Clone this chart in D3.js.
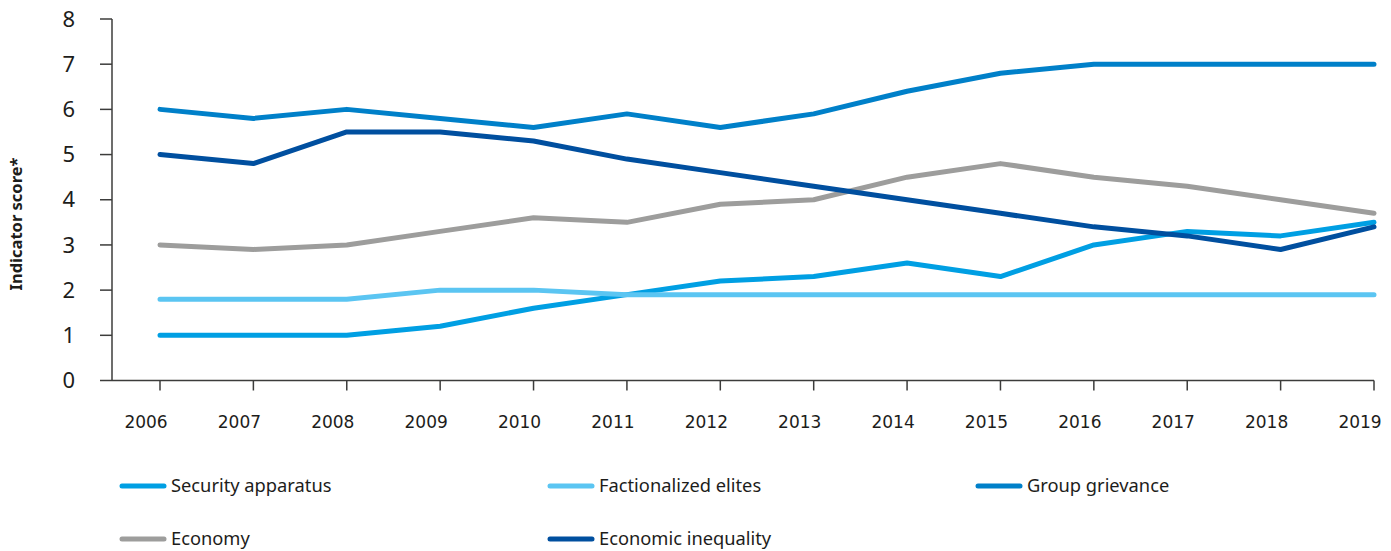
<!DOCTYPE html>
<html>
<head>
<meta charset="utf-8">
<script src="https://cdn.jsdelivr.net/npm/d3@7"></script>
<style>
  body { margin: 0; background: #fff; }
  svg { display: block; font-family: 'Noto Sans', sans-serif; }
</style>
</head>
<body>
<div class="chart"></div>
<script>
const years = [2006, 2007, 2008, 2009, 2010, 2011, 2012, 2013, 2014, 2015, 2016, 2017, 2018, 2019];
const yTicks = [0, 1, 2, 3, 4, 5, 6, 7, 8];

const securityApparatus = [1.0, 1.0, 1.0, 1.2, 1.6, 1.9, 2.2, 2.3, 2.6, 2.3, 3.0, 3.3, 3.2, 3.5];
const factionalizedElites = [1.8, 1.8, 1.8, 2.0, 2.0, 1.9, 1.9, 1.9, 1.9, 1.9, 1.9, 1.9, 1.9, 1.9];
const groupGrievance = [6.0, 5.8, 6.0, 5.8, 5.6, 5.9, 5.6, 5.9, 6.4, 6.8, 7.0, 7.0, 7.0, 7.0];
const economy = [3.0, 2.9, 3.0, 3.3, 3.6, 3.5, 3.9, 4.0, 4.5, 4.8, 4.5, 4.3, 4.0, 3.7];
const economicInequality = [5.0, 4.8, 5.5, 5.5, 5.3, 4.9, 4.6, 4.3, 4.0, 3.7, 3.4, 3.2, 2.9, 3.4];

const series = [
  { name: 'Security apparatus', values: securityApparatus, color: '#009fe3' },
  { name: 'Factionalized elites', values: factionalizedElites, color: '#5bc5f2' },
  { name: 'Group grievance', values: groupGrievance, color: '#0080c9' },
  { name: 'Economy', values: economy, color: '#9d9d9c' },
  { name: 'Economic inequality', values: economicInequality, color: '#004f9f' }
];

const width = 1391, height = 551;
const axisColor = '#3c3c3b';

const svg = d3.select('.chart')
  .append('svg')
  .attr('width', width)
  .attr('height', height);

const x = d3.scaleLinear().domain([2006, 2019]).range([160, 1374]);
const y = d3.scaleLinear().domain([0, 8]).range([380.5, 19]);

// y axis
const yAxis = svg.append('g').attr('transform', 'translate(112,0)');
yAxis.append('line')
  .attr('x1', 0).attr('x2', 0)
  .attr('y1', y(8)).attr('y2', y(0))
  .attr('stroke', axisColor).attr('stroke-width', 1.5);
yAxis.selectAll('.tick')
  .data(yTicks)
  .join('g')
  .attr('transform', d => `translate(0,${y(d)})`)
  .call(g => g.append('line')
    .attr('x1', -12).attr('x2', 0)
    .attr('stroke', axisColor).attr('stroke-width', 1.5))
  .call(g => g.append('text')
    .attr('x', -37)
    .attr('dy', '0.35em')
    .attr('text-anchor', 'end')
    .attr('font-size', 22)
    .attr('fill', '#1d1d1b')
    .text(d => d));

// x axis (labels sit a little left of their ticks, as in the original)
const xAxis = svg.append('g').attr('transform', `translate(0,${y(0)})`);
xAxis.append('line')
  .attr('x1', 112).attr('x2', x(2019))
  .attr('stroke', axisColor).attr('stroke-width', 1.5);
xAxis.selectAll('.tick')
  .data(years)
  .join('g')
  .attr('transform', d => `translate(${x(d)},0)`)
  .call(g => g.append('line')
    .attr('y1', 0).attr('y2', 10)
    .attr('stroke', axisColor).attr('stroke-width', 1.5))
  .call(g => g.append('text')
    .attr('x', -14)
    .attr('y', 47)
    .attr('text-anchor', 'middle')
    .attr('font-family', "'DejaVu Sans', sans-serif")
    .attr('font-size', 17)
    .attr('fill', '#1d1d1b')
    .text(d => d));

// y title
svg.append('text')
  .attr('transform', 'translate(22,224) rotate(-90)')
  .attr('text-anchor', 'middle')
  .attr('font-size', 16.5)
  .attr('font-weight', 'bold')
  .attr('fill', '#1d1d1b')
  .text('Indicator score*');

// lines
const line = d3.line()
  .x((d, i) => x(years[i]))
  .y(d => y(d));

svg.append('g')
  .selectAll('path')
  .data(series)
  .join('path')
  .attr('d', d => line(d.values))
  .attr('fill', 'none')
  .attr('stroke', d => d.color)
  .attr('stroke-width', 5)
  .attr('stroke-linecap', 'round')
  .attr('stroke-linejoin', 'round');

// legend
const legendX = [122, 550, 978];
const legendY = [486, 539];
const legend = svg.append('g')
  .selectAll('g')
  .data(series)
  .join('g')
  .attr('transform', (d, i) => `translate(${legendX[i % 3]},${legendY[Math.floor(i / 3)]})`);
legend.append('line')
  .attr('x1', 0).attr('x2', 42)
  .attr('stroke', d => d.color)
  .attr('stroke-width', 5)
  .attr('stroke-linecap', 'round');
legend.append('text')
  .attr('x', 49)
  .attr('dy', '0.35em')
  .attr('font-size', 18.3)
  .attr('fill', '#1d1d1b')
  .text(d => d.name);
</script>
</body>
</html>
